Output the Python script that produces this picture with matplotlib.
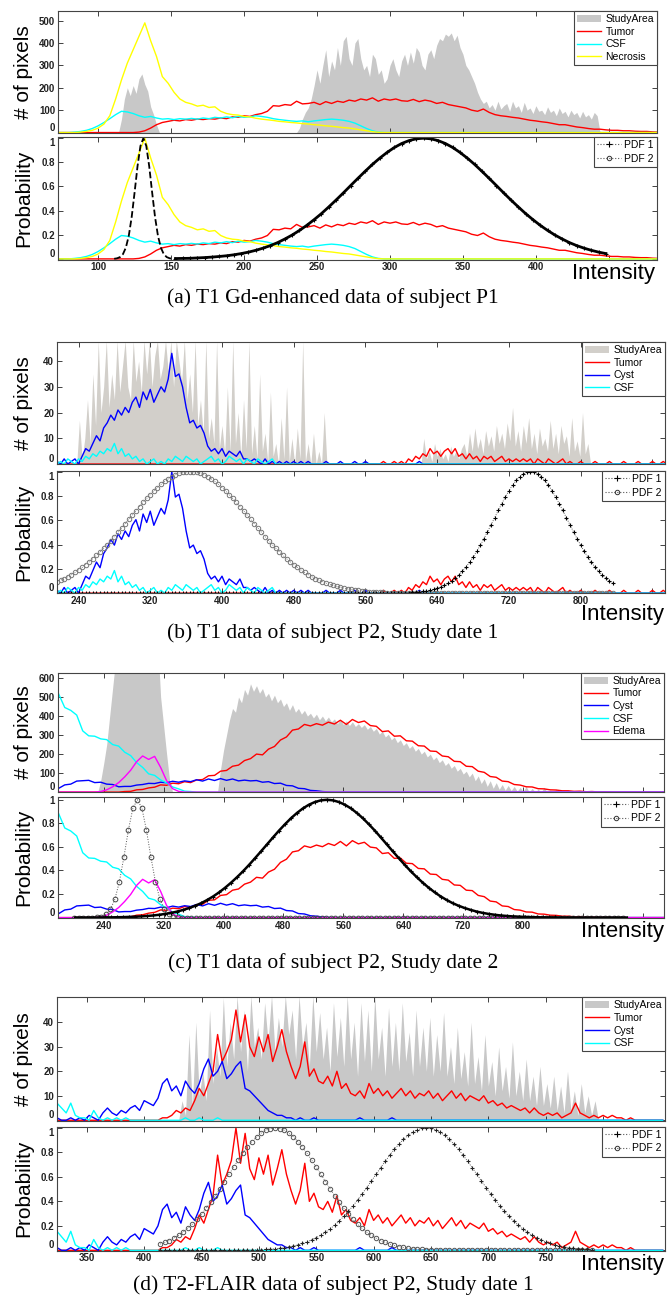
import numpy as np
import matplotlib
matplotlib.use('Agg')
import matplotlib.pyplot as plt
from matplotlib.patches import Patch
from matplotlib.lines import Line2D

W, H = 667, 1297

# ---------------- (a) T1 Gd-enhanced data of subject P1 ----------------
a_grid = (72, 488, 4)
a_tumor_start = 124
a_tumor = [0, 2, 8, 20, 35, 45, 50, 55, 52, 58, 55, 60, 58, 62, 60, 65, 62, 70, 68, 75,
           72, 80, 85, 95, 120, 118, 125, 122, 140, 128, 130, 135, 125, 138, 130, 140, 135, 145, 140, 150,
           145, 155, 140, 150, 145, 150, 142, 140, 148, 138, 145, 140, 130, 135, 125, 120, 115, 110, 100, 95,
           105, 90, 80, 75, 72, 68, 65, 60, 55, 52, 48, 45, 40, 35, 35, 30, 25, 22, 18, 15,
           15, 12, 10, 10, 8, 8, 6, 5, 5, 3, 2, 2]
a_csf_start = 80
a_csf = [0, 2, 5, 10, 18, 30, 45, 62, 80, 95, 92, 85, 75, 68, 72, 65, 60, 62, 58, 62,
         60, 63, 60, 65, 62, 68, 65, 70, 66, 72, 68, 70, 75, 72, 68, 62, 58, 55, 52, 50,
         52, 48, 52, 55, 58, 60, 58, 55, 50, 42, 30, 18, 8, 2, 0]
a_necrosis_start = 84
a_necrosis = [0, 2, 5, 10, 20, 38, 75, 150, 235, 310, 370, 430, 490, 410, 340, 250, 220, 180, 150, 135,
              128, 118, 122, 112, 115, 95, 85, 80, 78, 72, 70, 64, 60, 57, 54, 50, 48, 45, 43, 40,
              38, 35, 33, 30, 28, 25, 22, 20, 16, 12, 8, 4, 1, 0]
a_study = [
    (114, 2, [0, 60, 150, 200, 165, 210, 175, 240, 262, 215, 185, 115, 80, 35, 0]),
    (236, 2, [0, 20, 60, 90, 110, 150, 210, 280, 220, 300, 370, 250, 320, 280, 380, 300, 410, 430, 330, 300,
              400, 420, 330, 280, 300, 250, 350, 330, 260, 280, 220, 240, 300, 330, 280, 250, 320, 350, 300, 360,
              310, 380, 360, 300, 280, 350, 370, 330, 390, 420, 410, 440, 430, 445, 410, 435, 380, 350, 300, 280,
              250, 220, 180, 150, 130, 140, 110, 125, 100, 140, 105, 120, 130, 95, 140, 110, 120, 90, 135, 100,
              110, 85, 120, 95, 100, 80, 115, 90, 100, 75, 110, 85, 95, 70, 100, 80, 90, 65, 95, 70,
              80, 60, 90, 75, 0]),
]
a_pdf1_start, a_pdf1_step = 153, 5
a_pdf1 = [0.003, 0.004, 0.005, 0.008, 0.011, 0.015, 0.020, 0.026, 0.034, 0.044, 0.056, 0.071, 0.089, 0.110,
          0.135, 0.165, 0.198, 0.236, 0.278, 0.325, 0.375, 0.430, 0.487, 0.546, 0.607, 0.667, 0.726, 0.783,
          0.835, 0.882, 0.923, 0.956, 0.980, 0.995, 1.0, 0.995, 0.980, 0.956, 0.923, 0.882, 0.835, 0.783,
          0.726, 0.667, 0.607, 0.546, 0.487, 0.430, 0.375, 0.325, 0.278, 0.236, 0.198, 0.165, 0.135, 0.110,
          0.089, 0.071, 0.056, 0.044]
a_pdf2_start, a_pdf2_step = 111, 2
a_pdf2 = [0.001, 0.005, 0.015, 0.039, 0.093, 0.191, 0.347, 0.552, 0.768, 0.936, 1.0, 0.936, 0.768, 0.552,
          0.347, 0.191, 0.093, 0.039, 0.015, 0.005, 0.001]
a_peak = 490

# ---------------- (b) T1 data of subject P2, study date 1 ----------------
b_grid = (216, 896, 4)
b_tumor_start = 576
b_tumor = [0, 1, 0, 0, 1, 0, 1, 0, 2, 1, 3, 2, 4, 3, 6, 4, 5, 3, 5, 6,
           4, 6, 3, 4, 2, 4, 2, 3, 1, 3, 2, 3, 1, 2, 3, 1, 2, 1, 2, 1,
           2, 1, 2, 0, 2, 1, 0, 2, 1, 0, 1, 2, 0, 1, 0, 0, 1, 0, 0, 0,
           1, 0, 0, 0, 1, 0, 0, 0, 1, 0, 0, 0, 1, 0, 0, 0, 1, 0, 0, 1, 0]
b_cyst_start = 216
b_cyst = [1, 0, 2, 0, 1, 2, 0, 3, 6, 5, 8, 11, 9, 14, 16, 19, 17, 21, 19, 22,
          20, 24, 26, 22, 28, 25, 29, 24, 27, 30, 28, 33, 43, 34, 35, 30, 22, 16, 17, 14,
          15, 12, 7, 5, 6, 4, 6, 3, 5, 4, 3, 5, 2, 2, 1, 2, 1, 0, 2, 0,
          1, 0, 1, 0, 1, 0, 1, 0, 1, 0, 1, 0, 0, 0, 0, 1, 0, 0, 0, 1,
          0, 0, 0, 1, 0, 0, 1, 0, 0, 0, 0, 0, 0, 0, 0, 0, 0, 0, 0, 0,
          0, 1, 0]
b_csf_start = 216
b_csf = [0, 1, 0, 2, 1, 0, 2, 1, 3, 2, 4, 3, 5, 4, 6, 5, 8, 4, 6, 3,
         4, 2, 3, 1, 2, 0, 1, 2, 0, 1, 0, 2, 1, 3, 2, 1, 3, 2, 1, 2,
         0, 1, 2, 3, 1, 2, 0, 1, 3, 2, 1, 2, 0, 2, 1, 0, 2, 1, 0, 1, 2, 0]
b_study = [
    (238, 3, [0, 17, 2, 10, 25, 8, 35, 15, 48, 20, 30, 48, 22, 35, 25, 48, 28, 38, 48, 30,
              25, 48, 32, 40, 28, 48, 35, 48, 30, 42, 48, 33, 38, 48, 36, 48, 30, 48, 40, 32,
              48, 25, 35, 20, 48, 15, 25, 12, 48, 10, 18, 8, 48, 6, 15, 4, 30, 5, 48, 8,
              20, 3, 25, 6, 48, 4, 15, 2, 35, 5, 12, 1, 28, 3, 8, 0, 18, 2, 30, 1,
              10, 0, 14, 2, 48, 1, 8, 0, 12, 0, 5, 0, 20, 0]),
    (622, 3, [0, 10, 2, 5, 1, 8, 3, 6, 2, 4, 1, 7, 3, 5, 2, 6, 8, 3, 12, 5,
              14, 6, 10, 4, 13, 7, 11, 5, 15, 8, 12, 6, 16, 9, 22, 7, 13, 5, 15, 8,
              18, 6, 12, 4, 14, 7, 10, 5, 17, 6, 12, 4, 15, 8, 11, 3, 18, 5, 9, 3,
              20, 4, 8, 0]),
]
b_pdf_start, b_pdf_step = 216, 4
b_pdf2 = [0.094, 0.106, 0.120, 0.135, 0.152, 0.170, 0.190, 0.211, 0.234, 0.258, 0.283, 0.311, 0.339, 0.369,
          0.400, 0.433, 0.466, 0.501, 0.536, 0.571, 0.607, 0.642, 0.678, 0.712, 0.746, 0.779, 0.811, 0.841,
          0.869, 0.895, 0.919, 0.940, 0.958, 0.973, 0.985, 0.993, 0.998, 1.0,
          0.998, 0.993, 0.985, 0.973, 0.958, 0.940, 0.919, 0.895, 0.869, 0.841, 0.811, 0.779, 0.746, 0.712,
          0.678, 0.642, 0.607, 0.571, 0.536, 0.501, 0.466, 0.433, 0.400, 0.369, 0.339, 0.311, 0.283, 0.258,
          0.234, 0.211, 0.190, 0.170, 0.152, 0.135, 0.120, 0.106, 0.094, 0.082, 0.072, 0.063, 0.055, 0.047,
          0.041, 0.035, 0.030, 0.026, 0.022, 0.019, 0.016, 0.013, 0.011, 0.009, 0.008, 0.006, 0.005, 0.004,
          0.004, 0.003, 0.002, 0.002]
b_pdf1_start = 600
b_pdf1 = [0.002, 0.003, 0.004, 0.006, 0.008, 0.010, 0.014, 0.018, 0.024, 0.031, 0.040, 0.051, 0.064, 0.080,
          0.100, 0.122, 0.149, 0.179, 0.214, 0.253, 0.296, 0.343, 0.393, 0.447, 0.504, 0.562, 0.621, 0.680,
          0.737, 0.792, 0.843, 0.888, 0.927, 0.958, 0.981, 0.995, 1.0, 0.995, 0.981, 0.958, 0.927, 0.888,
          0.843, 0.792, 0.737, 0.680, 0.621, 0.562, 0.504, 0.447, 0.393, 0.343, 0.296, 0.253, 0.214, 0.179,
          0.149, 0.122, 0.100, 0.080]
b_peak = 43

# ---------------- (c) T1 data of subject P2, study date 2 ----------------
c_grid = (180, 988, 8)
c_csf_start = 180
c_csf = [515, 445, 430, 405, 322, 296, 294, 280, 276, 250, 242, 210, 192, 155, 130, 96, 88, 64, 48, 27,
         17, 5, 3, 0]
c_edema_start = 228
c_edema = [0, 3, 12, 28, 50, 80, 115, 160, 190, 172, 188, 130, 60, 18, 4, 0]
c_cyst_start = 180
c_cyst = [20, 38, 42, 58, 60, 62, 50, 52, 42, 40, 28, 30, 30, 37, 40, 46, 45, 52, 49, 57,
          52, 59, 55, 65, 58, 69, 61, 71, 62, 69, 59, 63, 59, 61, 52, 55, 45, 47, 35, 33,
          20, 18, 9, 7, 3, 1, 0]
c_tumor_start = 260
c_tumor = [0, 3, 4, 12, 14, 22, 26, 38, 36, 47, 44, 55, 50, 64, 66, 86, 88, 110, 114, 136,
           142, 166, 176, 200, 196, 226, 240, 274, 290, 326, 332, 356, 348, 360, 352, 368, 358, 378, 356, 382,
           366, 374, 350, 346, 318, 322, 294, 296, 270, 268, 244, 242, 216, 214, 190, 186, 162, 160, 136, 134,
           110, 104, 82, 78, 58, 55, 40, 37, 28, 27, 18, 17, 12, 11, 7, 7, 4, 5, 2, 3,
           1, 2, 1, 0]
c_study = [
    (232, 4, [0, 60, 150, 250, 400, 550, 700, 1000, 1000, 1000, 1000, 1000, 1000, 1000, 1000, 1000, 1000,
              1000, 1000, 1000, 800, 500, 350, 200, 60, 0]),
    (392, 4, [0, 120, 220, 300, 380, 440, 420, 500, 470, 540, 510, 570, 530, 560, 520, 545, 500, 520, 480, 510,
              470, 490, 450, 470, 430, 460, 420, 440, 410, 430, 400, 415, 390, 410, 380, 400, 375, 395, 370, 385,
              360, 380, 355, 375, 350, 370, 345, 360, 340, 355, 330, 345, 320, 335, 305, 320, 290, 305, 275, 290,
              260, 275, 245, 260, 230, 245, 215, 230, 200, 215, 185, 200, 170, 185, 155, 170, 140, 155, 125, 140,
              110, 125, 95, 110, 80, 100, 60, 85, 45, 70, 30, 60, 20, 50, 15, 40, 10, 35, 8, 30,
              5, 25, 3, 30, 0, 20, 0, 15, 0, 25, 0, 10, 0, 15, 0, 8, 0, 10, 0, 5, 0]),
]
c_pdf1_start, c_pdf1_step = 202, 8
c_pdf1 = [0.0002, 0.0003, 0.0005, 0.0007, 0.001, 0.0015, 0.002, 0.003, 0.004, 0.006, 0.008, 0.010, 0.014,
          0.018, 0.024, 0.031, 0.040, 0.051, 0.065, 0.081, 0.100, 0.122, 0.149, 0.179, 0.214, 0.253, 0.296,
          0.343, 0.393, 0.447, 0.504, 0.562, 0.621, 0.680, 0.738, 0.792, 0.843, 0.888, 0.927, 0.958, 0.981,
          0.995, 1.0, 0.995, 0.981, 0.958, 0.927, 0.888, 0.843, 0.792, 0.738, 0.680, 0.621, 0.562, 0.504,
          0.447, 0.393, 0.343, 0.296, 0.253, 0.214, 0.179, 0.149, 0.122, 0.100, 0.081, 0.065, 0.051, 0.040,
          0.031, 0.024, 0.018, 0.014, 0.010, 0.008, 0.006, 0.004, 0.003, 0.002, 0.0015, 0.001, 0.0007,
          0.0005, 0.0003, 0.0002, 0, 0, 0, 0, 0, 0, 0, 0]
c_pdf2_grid = (201, 933, 6)
c_pdf2_start = 225
c_pdf2 = [0.0006, 0.0025, 0.009, 0.027, 0.070, 0.157, 0.306, 0.514, 0.744, 0.929, 1.0, 0.929, 0.744,
          0.514, 0.306, 0.157, 0.070, 0.027, 0.009, 0.0025, 0.0006]
c_peak = 585

# ---------------- (d) T2-FLAIR data of subject P2, study date 1 ----------------
d_grid = (324, 852, 4)
d_tumor_start = 412
d_tumor = [0, 1, 1, 2, 4, 3, 5, 4, 8, 13, 10, 15, 20, 35, 24, 28, 33, 45, 32, 43,
           30, 26, 34, 28, 35, 24, 30, 37, 28, 22, 17, 22, 32, 18, 21, 16, 15, 18, 14, 20,
           13, 15, 11, 10, 12, 9, 15, 11, 13, 10, 12, 9, 11, 13, 10, 12, 9, 11, 10, 12,
           9, 11, 8, 10, 12, 9, 11, 8, 10, 9, 8, 10, 7, 8, 6, 7, 5, 6, 5, 4,
           5, 3, 5, 3, 2, 3, 2, 3, 1, 2, 3, 7, 3, 2, 1, 2, 1, 2, 1, 2,
           1, 1, 0, 1, 0]
d_cyst_start = 324
d_cyst = [1, 0, 0, 1, 0, 1, 0, 2, 1, 0, 3, 5, 3, 2, 4, 3, 5, 6, 4, 8,
          7, 6, 9, 15, 17, 12, 14, 10, 16, 13, 11, 15, 21, 25, 18, 20, 24, 17, 19, 22,
          24, 13, 12, 10, 8, 6, 4, 3, 2, 2, 1, 1, 0, 1, 0, 0, 1, 0, 0, 0,
          0, 0, 0, 0, 0, 0, 1, 0, 0, 0, 0, 0, 0, 1, 0]
d_csf_start = 324
d_csf = [7, 5, 3, 7, 2, 1, 1, 0, 4, 1, 0, 1, 0, 1, 0, 1, 0, 0, 0, 0,
         0, 0, 0, 0, 0, 0, 0, 0, 1, 0, 0, 1, 0, 0, 0, 1, 0]
d_study = [
    (430, 3, [0, 8, 2, 35, 5, 40, 10, 20, 8, 45, 15, 30, 18, 50, 22, 40, 25, 51, 28, 45,
              20, 51, 30, 38, 25, 48, 32, 51, 28, 42, 30, 51, 35, 45, 25, 51, 30, 40, 22, 51,
              28, 44, 25, 38, 20, 48, 26, 42, 22, 51, 25, 40, 18, 48, 24, 45, 20, 51, 25, 38,
              18, 46, 22, 40, 20, 48, 24, 36, 18, 45, 22, 38, 20, 42, 18, 35, 20, 44, 18, 30,
              15, 38, 17, 28, 14, 40, 15, 26, 12, 35, 14, 24, 10, 30, 12, 22, 9, 32, 10, 20,
              8, 25, 8, 18, 6, 22, 6, 15, 5, 18, 4, 14, 3, 20, 4, 12, 2, 15, 3, 10,
              2, 8, 0]),
]
d_pdf_start, d_pdf_step = 414, 4
d_pdf2 = [0.051, 0.064, 0.080, 0.100, 0.122, 0.149, 0.179, 0.214, 0.253, 0.296, 0.343, 0.393, 0.447,
          0.504, 0.562, 0.621, 0.680, 0.737, 0.792, 0.843, 0.888, 0.927, 0.958, 0.981, 0.995, 1.0,
          0.995, 0.981, 0.958, 0.927, 0.888, 0.843, 0.792, 0.737, 0.680, 0.621, 0.562, 0.504, 0.447,
          0.393, 0.343, 0.296, 0.253, 0.214, 0.179, 0.149, 0.122, 0.100, 0.080, 0.064, 0.051, 0.040,
          0.031, 0.024, 0.018, 0.014, 0.010, 0.008, 0.006, 0.004, 0.003, 0.002]
d_pdf1 = [0] * 17 + [0.001, 0.002, 0.002, 0.003, 0.004, 0.006, 0.008, 0.010, 0.013, 0.017, 0.022, 0.029,
                     0.036, 0.045, 0.056, 0.069, 0.085, 0.103, 0.124, 0.148, 0.175, 0.206, 0.240, 0.278,
                     0.319, 0.364, 0.411, 0.461, 0.513, 0.566, 0.620, 0.674, 0.726, 0.777, 0.824, 0.868,
                     0.906, 0.939, 0.965, 0.984, 0.996, 1.0, 0.996, 0.984, 0.965, 0.939, 0.906, 0.868,
                     0.824, 0.777, 0.726, 0.674, 0.620, 0.566, 0.513, 0.461, 0.411, 0.364, 0.319, 0.278,
                     0.240, 0.206, 0.175, 0.148, 0.124, 0.103, 0.085, 0.069, 0.056, 0.045, 0.036, 0.029,
                     0.022, 0.017, 0.013, 0.010, 0.008, 0.006]
d_pdf_end = 790
d_peak = 45

captions = ['(a) T1 Gd-enhanced data of subject P1',
            '(b) T1 data of subject P2, Study date 1',
            '(c) T1 data of subject P2, Study date 2',
            '(d) T2-FLAIR data of subject P2, Study date 1']

RED, CYAN, YELLOW, BLUE, MAGENTA = '#ff0000', '#00ffff', '#ffff00', '#0000ff', '#ff00ff'
SANS = ['Liberation Sans', 'DejaVu Sans']
SERIF = ['Liberation Serif', 'DejaVu Serif']
plt.rcParams['font.family'] = SANS


def grid(spec):
    lo, hi, step = spec
    return np.arange(lo, hi + 1, step, dtype=float)


def place(x, start, seg):
    out = np.zeros(len(x))
    i = int(np.searchsorted(x, start))
    seg = np.asarray(seg[:len(x) - i], dtype=float)
    out[i:i + len(seg)] = seg
    return out


def seq_x(start, step, vals):
    return start + step * np.arange(len(vals))


def px_axes(fig, l, t, r, b):
    return fig.add_axes([l / W, 1 - b / H, (r - l) / W, (b - t) / H])


def style(ax, xlim, ylim, xticks, xlabels, yticks, ylabels, top_label_down=False):
    ax.set_xlim(*xlim)
    ax.set_ylim(*ylim)
    ax.set_xticks(xticks)
    ax.set_xticklabels(xlabels)
    ax.set_yticks(yticks)
    ax.set_yticklabels(ylabels)
    ax.tick_params(direction='in', top=True, right=True, length=3.5, width=0.6,
                   labelsize=7, pad=2, colors='#222222')
    for s in ax.spines.values():
        s.set_linewidth(0.8)
        s.set_color('#444444')
    for lbl in ax.get_xticklabels() + ax.get_yticklabels():
        lbl.set_fontweight('bold')
    ylbls = ax.get_yticklabels()
    ylbls[0].set_verticalalignment('bottom')
    if top_label_down:
        ylbls[-1].set_verticalalignment('top')


def draw_study(ax, segments, color):
    for s0, st, vals in segments:
        ax.fill_between(seq_x(s0, st, vals), 0, vals, color=color, lw=0)


def count_legend(ax, gray, names, colors):
    handles = [Patch(facecolor=gray, edgecolor='none', label='StudyArea')]
    handles += [Line2D([], [], color=c, lw=1.0, label=n) for n, c in zip(names, colors)]
    leg = ax.legend(handles=handles, loc='upper right', borderaxespad=0, fancybox=False,
                    edgecolor='#444444', framealpha=1, prop={'size': 7.5}, handlelength=2.3,
                    handletextpad=0.4, labelspacing=0.25, borderpad=0.3)
    leg.get_frame().set_linewidth(0.8)


def pdf_legend(ax):
    handles = [Line2D([], [], color='#555555', ls=':', lw=0.8, marker='+', ms=4, mew=0.8,
                      mec='k', label='PDF 1'),
               Line2D([], [], color='#555555', ls=':', lw=0.8, marker='o', ms=3.2, mfc='none',
                      mec='#333333', mew=0.7, label='PDF 2')]
    leg = ax.legend(handles=handles, loc='upper right', borderaxespad=0, fancybox=False,
                    edgecolor='#444444', framealpha=1, prop={'size': 7.5}, handlelength=2.3,
                    handletextpad=0.3, labelspacing=0.35, borderpad=0.3, numpoints=1)
    leg.get_frame().set_linewidth(0.8)


def side_labels(fig, top_box, bot_box, intensity_right, intensity_gap=3):
    t1, b1 = top_box
    t2, b2 = bot_box
    fig.text(24 / W, 1 - (t1 + b1) / 2 / H, '# of pixels', rotation=90, ha='center', va='center',
             fontsize=15, family=SANS)
    fig.text(24 / W, 1 - (t2 + b2) / 2 / H, 'Probability', rotation=90, ha='center', va='center',
             fontsize=15, family=SANS)
    fig.text(intensity_right / W, 1 - (b2 + intensity_gap) / H, 'Intensity', ha='right', va='top',
             fontsize=16, family=SANS)


def caption(fig, y, text):
    fig.text(333 / W, 1 - y / H, text, ha='center', va='center', fontsize=15.5, family=SERIF)


fig = plt.figure(figsize=(W / 100, H / 100), dpi=100)
fig.patch.set_facecolor('white')
LW = 1.0
PROB_TICKS = [0, 0.2, 0.4, 0.6, 0.8, 1.0]
PROB_LABELS = ['0', '0.2', '0.4', '0.6', '0.8', '1']

# ================= (a) =================
xa = grid(a_grid)
tum = place(xa, a_tumor_start, a_tumor)
csf = place(xa, a_csf_start, a_csf)
nec = place(xa, a_necrosis_start, a_necrosis)
gray_a = '#c8c8c8'
ax = px_axes(fig, 58, 11, 657, 133)
draw_study(ax, a_study, gray_a)
ax.plot(xa, tum, color=RED, lw=LW)
ax.plot(xa, csf, color=CYAN, lw=LW)
ax.plot(xa, nec, color=YELLOW, lw=LW)
style(ax, (72.5, 483), (-2, 543), np.arange(100, 451, 50), [''] * 8,
      np.arange(0, 501, 100), [str(v) for v in range(0, 501, 100)])
count_legend(ax, gray_a, ['Tumor', 'CSF', 'Necrosis'], [RED, CYAN, YELLOW])

ax = px_axes(fig, 58, 137, 657, 259.5)
ax.plot(xa, tum / a_peak, color=RED, lw=LW)
ax.plot(xa, csf / a_peak, color=CYAN, lw=LW)
ax.plot(xa, nec / a_peak, color=YELLOW, lw=LW)
ax.plot(seq_x(a_pdf1_start, a_pdf1_step, a_pdf1), a_pdf1, color='k', lw=2.0,
        marker='+', ms=3, mew=0.8)
ax.plot(seq_x(a_pdf2_start, a_pdf2_step, a_pdf2), a_pdf2, color='k', lw=1.3, ls='--')
style(ax, (72.5, 483), (-0.005, 1.01), np.arange(100, 451, 50),
      ['100', '150', '200', '250', '300', '350', '400', ''],
      PROB_TICKS, PROB_LABELS, top_label_down=True)
pdf_legend(ax)
side_labels(fig, (11, 133), (137, 259.5), 655)
caption(fig, 298, captions[0])

# ================= (b) =================
xb = grid(b_grid)
tum = place(xb, b_tumor_start, b_tumor)
cyst = place(xb, b_cyst_start, b_cyst)
csf = place(xb, b_csf_start, b_csf)
gray_b = '#d2cfca'
ax = px_axes(fig, 57, 342, 665, 464.3)
draw_study(ax, b_study, gray_b)
ax.plot(xb, tum, color=RED, lw=LW)
ax.plot(xb, cyst, color=BLUE, lw=LW)
ax.plot(xb, csf, color=CYAN, lw=LW)
style(ax, (216, 894), (-0.1, 47.4), np.arange(240, 881, 80), [''] * 9,
      np.arange(0, 41, 10), [str(v) for v in range(0, 41, 10)])
count_legend(ax, gray_b, ['Tumor', 'Cyst', 'CSF'], [RED, BLUE, CYAN])

ax = px_axes(fig, 57, 471, 665, 593.5)
ax.plot(xb, tum / b_peak, color=RED, lw=LW)
ax.plot(xb, cyst / b_peak, color=BLUE, lw=LW)
ax.plot(xb, csf / b_peak, color=CYAN, lw=LW)
xpb = seq_x(b_pdf_start, b_pdf_step, np.zeros(156))
ax.plot(xpb, place(xpb, b_pdf_start, b_pdf2), ls=':', color='#666666', lw=0.6, marker='o',
        ms=3.2, mfc='none', mec='#777777', mew=0.7)
ax.plot(xpb, place(xpb, b_pdf1_start, b_pdf1), ls=':', color='#333333', lw=0.6, marker='+',
        ms=3.5, mec='k', mew=0.8)
style(ax, (216, 894), (-0.003, 1.005), np.arange(240, 881, 80),
      ['240', '320', '400', '480', '560', '640', '720', '800', ''],
      PROB_TICKS, PROB_LABELS, top_label_down=True)
pdf_legend(ax)
side_labels(fig, (342, 464.3), (471, 593.5), 664, intensity_gap=11)
caption(fig, 633, captions[1])

# ================= (c) =================
xc = grid(c_grid)
csf = place(xc, c_csf_start, c_csf)
edm = place(xc, c_edema_start, c_edema)
cyst = place(xc, c_cyst_start, c_cyst)
tum = place(xc, c_tumor_start, c_tumor)
gray_c = '#c8c8c8'
ax = px_axes(fig, 58, 672.7, 664, 792.3)
draw_study(ax, c_study, gray_c)
ax.plot(xc, tum, color=RED, lw=LW)
ax.plot(xc, cyst, color=BLUE, lw=LW)
ax.plot(xc, csf, color=CYAN, lw=LW)
ax.plot(xc, edm, color=MAGENTA, lw=LW)
style(ax, (179, 988), (-1, 628), np.arange(240, 961, 80), [''] * 10,
      np.arange(0, 601, 100), [str(v) for v in range(0, 601, 100)])
count_legend(ax, gray_c, ['Tumor', 'Cyst', 'CSF', 'Edema'], [RED, BLUE, CYAN, MAGENTA])

ax = px_axes(fig, 58, 796.7, 664, 918.3)
ax.plot(xc, tum / c_peak, color=RED, lw=LW)
ax.plot(xc, cyst / c_peak, color=BLUE, lw=LW)
ax.plot(xc, csf / c_peak, color=CYAN, lw=LW)
ax.plot(xc, edm / c_peak, color=MAGENTA, lw=LW)
xp2 = grid(c_pdf2_grid)
ax.plot(xp2, place(xp2, c_pdf2_start, c_pdf2), ls=':', color='#555555', lw=0.7, marker='o',
        ms=3.4, mfc='none', mec='#444444', mew=0.7)
ax.plot(seq_x(c_pdf1_start, c_pdf1_step, c_pdf1), c_pdf1, color='k', lw=1.8, marker='+',
        ms=3.5, mew=0.8)
style(ax, (179, 988), (-0.006, 1.026), np.arange(240, 961, 80),
      ['240', '320', '400', '480', '560', '640', '720', '800', '', ''],
      PROB_TICKS, PROB_LABELS)
pdf_legend(ax)
side_labels(fig, (672.7, 792.3), (796.7, 918.3), 664)
caption(fig, 963, captions[2])

# ================= (d) =================
xd = grid(d_grid)
tum = place(xd, d_tumor_start, d_tumor)
cyst = place(xd, d_cyst_start, d_cyst)
csf = place(xd, d_csf_start, d_csf)
gray_d = '#c8c8c8'
ax = px_axes(fig, 57, 997.3, 665, 1121)
draw_study(ax, d_study, gray_d)
ax.plot(xd, tum, color=RED, lw=LW)
ax.plot(xd, cyst, color=BLUE, lw=LW)
ax.plot(xd, csf, color=CYAN, lw=LW)
style(ax, (324, 854), (-0.3, 50.2), np.arange(350, 801, 50), [''] * 10,
      np.arange(0, 41, 10), [str(v) for v in range(0, 41, 10)])
count_legend(ax, gray_d, ['Tumor', 'Cyst', 'CSF'], [RED, BLUE, CYAN])

ax = px_axes(fig, 57, 1126.7, 665, 1250.7)
ax.plot(xd, tum / d_peak, color=RED, lw=LW)
ax.plot(xd, cyst / d_peak, color=BLUE, lw=LW)
ax.plot(xd, csf / d_peak, color=CYAN, lw=LW)
xpd = np.arange(d_pdf_start, d_pdf_end + 1, d_pdf_step, dtype=float)
ax.plot(xpd, place(xpd, d_pdf_start, d_pdf2), ls=':', color='#555555', lw=0.6, marker='o',
        ms=3.2, mfc='none', mec='#555555', mew=0.7)
ax.plot(xpd, place(xpd, d_pdf_start, d_pdf1), ls=':', color='#333333', lw=0.6, marker='+',
        ms=3.5, mec='#222222', mew=0.8)
style(ax, (324, 854), (-0.003, 1.01), np.arange(350, 801, 50),
      ['350', '400', '450', '500', '550', '600', '650', '700', '750', ''],
      PROB_TICKS, PROB_LABELS, top_label_down=True)
pdf_legend(ax)
side_labels(fig, (997.3, 1121), (1126.7, 1250.7), 664)
caption(fig, 1285, captions[3])

fig.savefig('out.png', dpi=100, facecolor='white')
